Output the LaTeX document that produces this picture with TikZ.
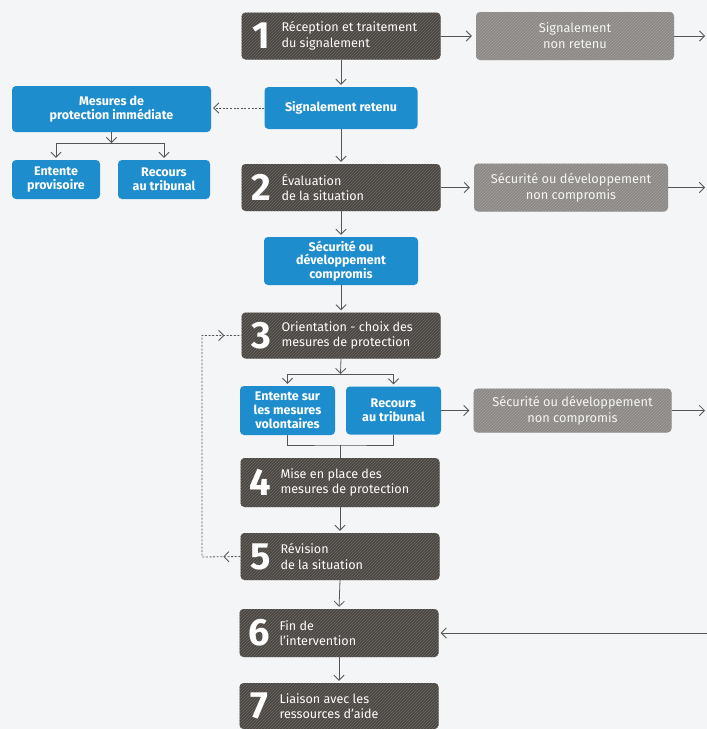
\documentclass[tikz,border=0pt]{standalone}
\usepackage{fontspec}
\setmainfont{Fira Sans}
\usetikzlibrary{arrows.meta,decorations.markings,calc,patterns}
\definecolor{fonce}{HTML}{4A4541}
\definecolor{gris}{HTML}{8C8884}
\definecolor{bleu}{HTML}{1E8DCE}
\definecolor{trait}{HTML}{565656}
\definecolor{fond}{HTML}{F3F5F7}
\tikzstyle{arrow} = [line width=0.8pt,draw=trait,-{Straight Barb[length=1.8mm,width=3.6mm]},shorten >=2pt]
\tikzstyle{lien} = [line width=0.8pt,draw=trait]
\tikzstyle{pointille} = [line width=0.8pt,draw=trait,dash pattern=on 2pt off 1.6pt]

\newcommand{\etape}[2]{\parbox[c]{24pt}{\centering\fontsize{38}{38}\selectfont\bfseries #1}\hspace{8pt}\parbox[c]{151pt}{\raggedright #2}}

\begin{document}
\begin{tikzpicture}[x=1pt,y=-1pt,
  etapebox/.style={rounded corners=4pt,fill=fonce,postaction={pattern=north east lines,pattern color=fonce!80!white},text=white,minimum width=199pt,minimum height=47pt,inner xsep=8pt,inner ysep=0pt,align=left,font=\fontsize{12.6}{15.5}\selectfont},
  grisbox/.style={rounded corners=4pt,fill=gris,postaction={pattern=north east lines,pattern color=gris!80!white},text=white!92!gris,minimum width=198pt,minimum height=48pt,align=center,font=\fontsize{12.8}{16}\selectfont},
  bleubox/.style={rounded corners=4pt,fill=bleu,text=white,align=center,inner sep=0pt,font=\bfseries\fontsize{12.5}{13.8}\selectfont}]

 \fill[fond] (0,0) rectangle (707,729);
 \useasboundingbox (0,0) rectangle (707,729);

 \node [etapebox] (e1) at (341,36){\etape{1}{Réception et traitement\\du signalement}};
 \node [grisbox] (snr) at (575,36){Signalement\\non retenu};
 \node [bleubox,minimum width=153pt,minimum height=42pt] (sr) at (341,108){Signalement retenu};
 \node [bleubox,minimum width=199pt,minimum height=46pt] (mpi) at (111.5,109){Mesures de\\protection immédiate};
 \node [bleubox,minimum width=88pt,minimum height=39pt] (ep) at (56,179.5){Entente\\provisoire};
 \node [bleubox,minimum width=92pt,minimum height=39pt] (rt1) at (164,179.5){Recours\\au tribunal};

 \node [etapebox] (e2) at (341,187.5){\etape{2}{Évaluation\\de la situation}};
 \node [grisbox,minimum width=194pt] (snc1) at (571,187.5){Sécurité ou développement\\non compromis};
 \node [bleubox,minimum width=154pt,minimum height=48pt] (sdc) at (341,261){Sécurité ou\\développement\\compromis};

 \node [etapebox,minimum height=46pt] (e3) at (341,335.5){\etape{3}{Orientation - choix des\\mesures de protection}};
 \node [bleubox,minimum width=95pt,minimum height=49pt] (esm) at (287.5,410.5){Entente sur\\les mesures\\volontaires};
 \node [bleubox,minimum width=95pt,minimum height=48pt] (rt2) at (393.5,410.5){Recours\\au tribunal};
 \node [grisbox,minimum height=44pt] (snc2) at (572.5,410.5){Sécurité ou développement\\non compromis};

 \node [etapebox,minimum height=49pt] (e4) at (340,482.5){\etape{4}{Mise en place des\\mesures de protection}};
 \node [etapebox] (e5) at (340,556.5){\etape{5}{Révision\\de la situation}};
 \node [etapebox,minimum height=48pt] (e6) at (339,633){\etape{6}{Fin de\\l’intervention}};
 \node [etapebox,minimum height=46pt] (e7) at (339,706){\etape{7}{Liaison avec les\\ressources d’aide}};

 \coordinate (s1) at (706,36);
 \coordinate (s2) at (706,187.5);
 \coordinate (s3) at (706,410.5);
 \coordinate (s6) at (707,633);
 \coordinate (m0) at (111.5,143);
 \coordinate (m3) at (340.5,374);
 \coordinate (j4) at (340.5,445);
 \coordinate (boucle) at (202,557);

 \draw[arrow,shorten >=4pt] (e1.east) -- (snr.west);
 \draw[arrow,shorten >=1pt] (snr.east) -- (s1);
 \draw[arrow] (e1.south) -- (sr.north);
 \draw[pointille,-{Straight Barb[length=1.8mm,width=3.6mm]},shorten >=2pt] (sr.west) -- (mpi.east |- sr.west);
 \draw[arrow,shorten >=0pt] (mpi.south) -- (m0);
 \draw[lien] (ep.north |- m0) -- (rt1.north |- m0);
 \draw[arrow] (ep.north |- m0) -- (ep.north);
 \draw[arrow] (rt1.north |- m0) -- (rt1.north);

 \draw[arrow] (sr.south) -- (e2.north);
 \draw[arrow,shorten >=4pt] (e2.east) -- (snc1.west);
 \draw[arrow,shorten >=1pt] (snc1.east) -- (s2);
 \draw[arrow] (e2.south) -- (sdc.north);
 \draw[arrow] (sdc.south) -- (e3.north);

 \draw[arrow,shorten >=0pt] (e3.south) -- (m3);
 \draw[lien] (esm.north |- m3) -- (rt2.north |- m3);
 \draw[arrow] (esm.north |- m3) -- (esm.north);
 \draw[arrow] (rt2.north |- m3) -- (rt2.north);
 \draw[arrow,shorten >=4pt] (rt2.east) -- (snc2.west);
 \draw[arrow,shorten >=1pt] (snc2.east) -- (s3);
 \draw[lien] (esm.south) |- (j4) -| (rt2.south);
 \draw[lien] (j4) -- (j4 |- e4.north);

 \draw[arrow] (e4.south) -- (e5.north);
 \draw[arrow] (e5.south) -- (e6.north);
 \draw[arrow] (e6.south) -- (e7.north);
 \draw[arrow] (s6) -- (e6.east);

 \draw[pointille,postaction={decorate},decoration={markings,
   mark=at position 17pt with {\arrow{Straight Barb[length=1.8mm,width=3.6mm]}},
   mark=at position -17pt with {\arrow{Straight Barb[length=1.8mm,width=3.6mm]}}}]
   (e5.west) -- (boucle) |- (e3.west);
\end{tikzpicture}
\end{document}
